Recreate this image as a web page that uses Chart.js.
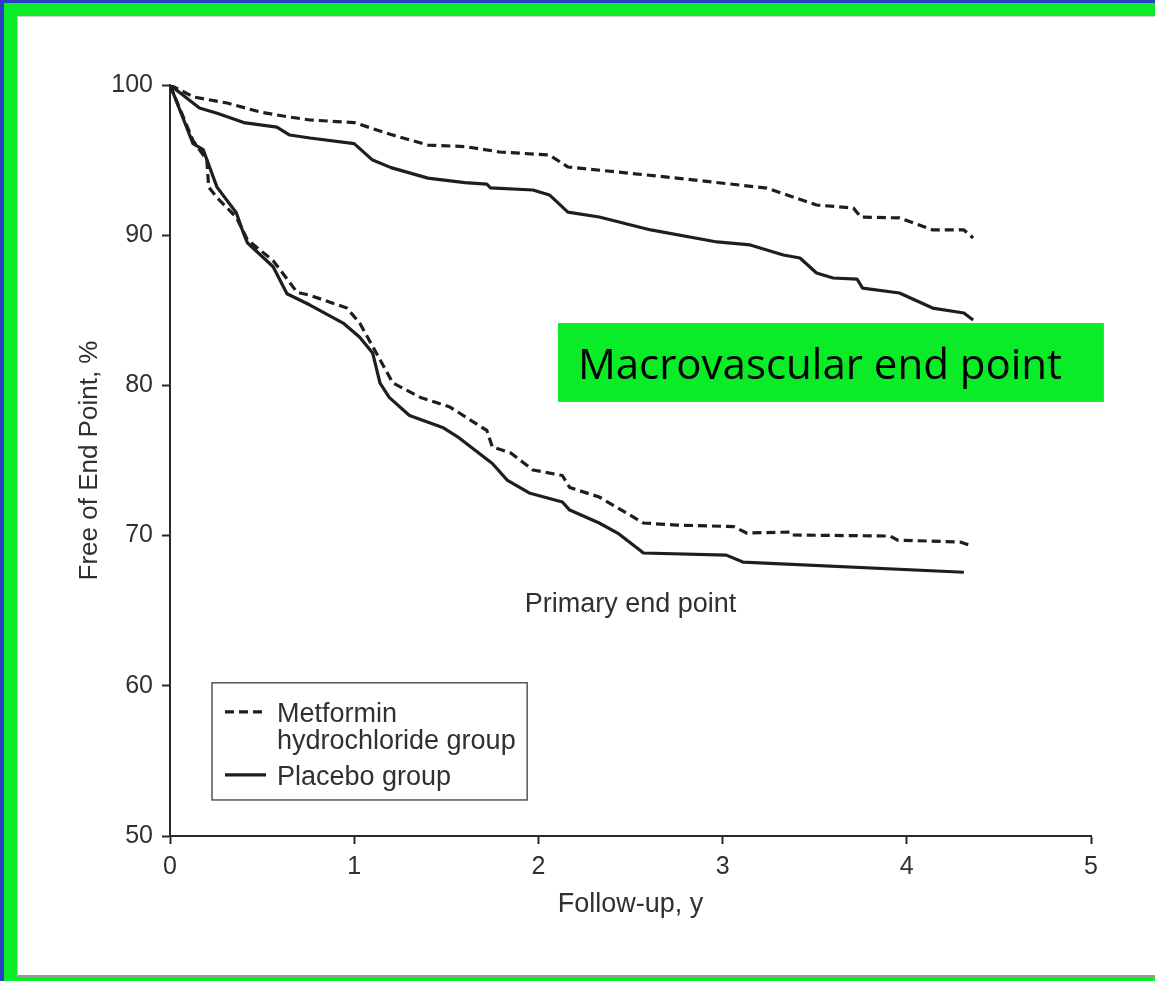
<!DOCTYPE html>
<html>
<head>
<meta charset="utf-8">
<script src="https://cdn.jsdelivr.net/npm/chart.js@4/dist/chart.umd.min.js"></script>
<style>
  html, body { margin: 0; padding: 0; width: 1155px; height: 981px; overflow: hidden; background: #2b3ec4; }
  #frame { position: absolute; left: 4px; top: 3px; width: 1151px; height: 978px; background: #0bec28; }
  #paper { position: absolute; left: 13px; top: 13px; right: 0; height: 958px; background: #fff;
           border-left: 1px solid #c8c8c8; border-top: 1px solid #d0d0d0; border-bottom: 2px solid #9a9a9a; }
  #c { position: absolute; left: 0; top: 0; }
</style>
</head>
<body>
<div id="frame"><div id="paper"></div></div>
<canvas id="c" width="1155" height="981"></canvas>
<script>
// Follow-up time (years) and event-free percentage for each Kaplan-Meier curve.
const metMacroT = [0, 0.13, 0.31, 0.49, 0.63, 0.76, 1.0, 1.1, 1.2, 1.4, 1.6, 1.79, 2.06, 2.16, 2.70, 3.24, 3.51, 3.71, 3.75, 3.96, 4.14, 4.31, 4.36];
const metMacroV = [100, 99.2, 98.8, 98.2, 97.9, 97.67, 97.5, 97.1, 96.7, 96.0, 95.9, 95.54, 95.34, 94.54, 93.87, 93.14, 92.01, 91.81, 91.21, 91.15, 90.35, 90.35, 89.81];

const plaMacroT = [0, 0.16, 0.26, 0.40, 0.58, 0.65, 0.76, 1.0, 1.1, 1.2, 1.4, 1.6, 1.72, 1.74, 1.97, 2.06, 2.16, 2.33, 2.61, 2.97, 3.15, 3.33, 3.42, 3.51, 3.60, 3.73, 3.76, 3.96, 4.14, 4.31, 4.36];
const plaMacroV = [100, 98.47, 98.1, 97.5, 97.2, 96.67, 96.47, 96.1, 95.0, 94.5, 93.8, 93.5, 93.4, 93.15, 93.01, 92.68, 91.54, 91.21, 90.35, 89.55, 89.35, 88.68, 88.48, 87.48, 87.15, 87.08, 86.48, 86.15, 85.15, 84.82, 84.35];

const metPrimT = [0, 0.125, 0.2, 0.21, 0.255, 0.36, 0.42, 0.56, 0.61, 0.69, 0.76, 0.96, 1.03, 1.12, 1.21, 1.36, 1.52, 1.72, 1.75, 1.85, 1.97, 2.13, 2.17, 2.33, 2.57, 2.75, 3.06, 3.13, 3.37, 3.38, 3.91, 3.95, 4.29, 4.34];
const metPrimV = [100, 96.3, 95.0, 93.2, 92.5, 91.2, 89.7, 88.3, 87.5, 86.2, 86.0, 85.15, 84.15, 82.16, 80.16, 79.2, 78.56, 77.0, 75.9, 75.5, 74.37, 74.0, 73.2, 72.57, 70.84, 70.7, 70.6, 70.17, 70.24, 70.04, 69.97, 69.7, 69.57, 69.37];

const plaPrimT = [0, 0.125, 0.18, 0.255, 0.36, 0.40, 0.42, 0.56, 0.635, 0.76, 0.94, 1.03, 1.10, 1.14, 1.19, 1.30, 1.48, 1.57, 1.75, 1.83, 1.95, 2.13, 2.17, 2.33, 2.43, 2.55, 2.57, 3.02, 3.11, 4.31];
const plaPrimV = [100, 96.1, 95.7, 93.2, 91.5, 90.1, 89.5, 87.9, 86.1, 85.35, 84.15, 83.2, 82.16, 80.16, 79.2, 78.0, 77.2, 76.5, 74.8, 73.7, 72.84, 72.24, 71.7, 70.84, 70.17, 69.04, 68.84, 68.7, 68.24, 67.56];

// Axis ticks
const xTicks = [0, 1, 2, 3, 4, 5];
const yTicks = [50, 60, 70, 80, 90, 100];

// Text
const groupNames = ['Metformin hydrochloride group', 'Placebo group'];
const legendLines = [['Metformin', 'hydrochloride group'], ['Placebo group']];
const primaryLabel = 'Primary end point';
const macroLabel = 'Macrovascular end point';
const xTitle = 'Follow-up, y';
const yTitle = 'Free of End Point, %';

const INK = '#1e1e1e';
const TEXT = '#303030';
const SANS = '"Liberation Sans", Arial, Helvetica, sans-serif';
const DASH = [9, 5];

function pts(t, v) { return t.map((x, i) => ({ x: x, y: v[i] })); }

function curve(label, t, v, dashed) {
  return {
    label: label,
    data: pts(t, v),
    showLine: true,
    borderColor: INK,
    borderWidth: 3.2,
    borderDash: dashed ? DASH : [],
    pointRadius: 0,
    tension: 0,
    borderJoinStyle: 'round',
    borderCapStyle: 'butt'
  };
}

// Annotations: end-point labels, highlighted caption and the boxed key
const overlay = {
  id: 'overlay',
  afterDatasetsDraw(chart) {
    const { ctx, scales: { x, y } } = chart;
    ctx.save();

    // Primary end point caption
    ctx.fillStyle = TEXT;
    ctx.font = '27px ' + SANS;
    ctx.textAlign = 'center';
    ctx.textBaseline = 'alphabetic';
    ctx.fillText(primaryLabel, x.getPixelForValue(2.5), y.getPixelForValue(64.91));

    // Highlighted caption for the upper pair of curves
    const bx0 = x.getPixelForValue(2.106), bx1 = x.getPixelForValue(5.07);
    const by0 = y.getPixelForValue(84.15), by1 = y.getPixelForValue(78.9);
    ctx.fillStyle = '#0bec28';
    ctx.fillRect(bx0, by0, bx1 - bx0, by1 - by0);
    ctx.fillStyle = '#000';
    ctx.font = '42px "Open Sans", "Noto Sans", sans-serif';
    ctx.textAlign = 'left';
    ctx.fillText(macroLabel, bx0 + 20, by0 + 56);

    // Key
    const lx0 = x.getPixelForValue(0.228), lx1 = x.getPixelForValue(1.939);
    const ly0 = y.getPixelForValue(60.2), ly1 = y.getPixelForValue(52.4);
    ctx.strokeStyle = '#555';
    ctx.lineWidth = 1.5;
    ctx.strokeRect(lx0, ly0, lx1 - lx0, ly1 - ly0);

    ctx.strokeStyle = INK;
    ctx.lineWidth = 3.2;
    ctx.setLineDash(DASH);
    ctx.beginPath();
    ctx.moveTo(lx0 + 13, ly0 + 29);
    ctx.lineTo(lx0 + 54, ly0 + 29);
    ctx.stroke();
    ctx.setLineDash([]);
    ctx.beginPath();
    ctx.moveTo(lx0 + 13, ly0 + 92);
    ctx.lineTo(lx0 + 54, ly0 + 92);
    ctx.stroke();

    ctx.fillStyle = TEXT;
    ctx.font = '27px ' + SANS;
    ctx.textAlign = 'left';
    ctx.fillText(legendLines[0][0], lx0 + 65, ly0 + 39);
    ctx.fillText(legendLines[0][1], lx0 + 65, ly0 + 66);
    ctx.fillText(legendLines[1][0], lx0 + 65, ly0 + 102);
    ctx.restore();
  }
};

new Chart(document.getElementById('c'), {
  type: 'scatter',
  data: {
    datasets: [
      curve(groupNames[0], metMacroT, metMacroV, true),
      curve(groupNames[1], plaMacroT, plaMacroV, false),
      curve(groupNames[0], metPrimT, metPrimV, true),
      curve(groupNames[1], plaPrimT, plaPrimV, false)
    ]
  },
  options: {
    responsive: false,
    animation: false,
    devicePixelRatio: 1,
    layout: { padding: { left: 60, top: 85, right: 64, bottom: 50 } },
    plugins: { legend: { display: false }, tooltip: { enabled: false } },
    scales: {
      x: {
        type: 'linear',
        min: xTicks[0], max: xTicks[xTicks.length - 1],
        afterBuildTicks: s => { s.ticks = xTicks.map(v => ({ value: v })); },
        afterFit: s => { s.height = 95; },
        border: { display: true, color: '#2a2a2a', width: 2 },
        grid: { drawOnChartArea: false, drawTicks: true, tickLength: 8, tickColor: '#2a2a2a', tickWidth: 2 },
        ticks: { color: TEXT, font: { family: SANS, size: 25 }, padding: 8 },
        title: { display: true, text: xTitle, color: TEXT, font: { family: SANS, size: 27 }, padding: { top: 0, bottom: 10 } }
      },
      y: {
        type: 'linear',
        min: yTicks[0], max: yTicks[yTicks.length - 1],
        afterBuildTicks: s => { s.ticks = yTicks.map(v => ({ value: v })); },
        afterFit: s => { s.width = 110; },
        border: { display: true, color: '#2a2a2a', width: 2 },
        grid: { drawOnChartArea: false, drawTicks: true, tickLength: 8, tickColor: '#2a2a2a', tickWidth: 2 },
        ticks: { color: TEXT, font: { family: SANS, size: 25 }, padding: 9 },
        title: { display: true, text: yTitle, color: TEXT, font: { family: SANS, size: 26 }, padding: { top: 14, bottom: 0 } }
      }
    }
  },
  plugins: [overlay]
});
</script>
</body>
</html>
